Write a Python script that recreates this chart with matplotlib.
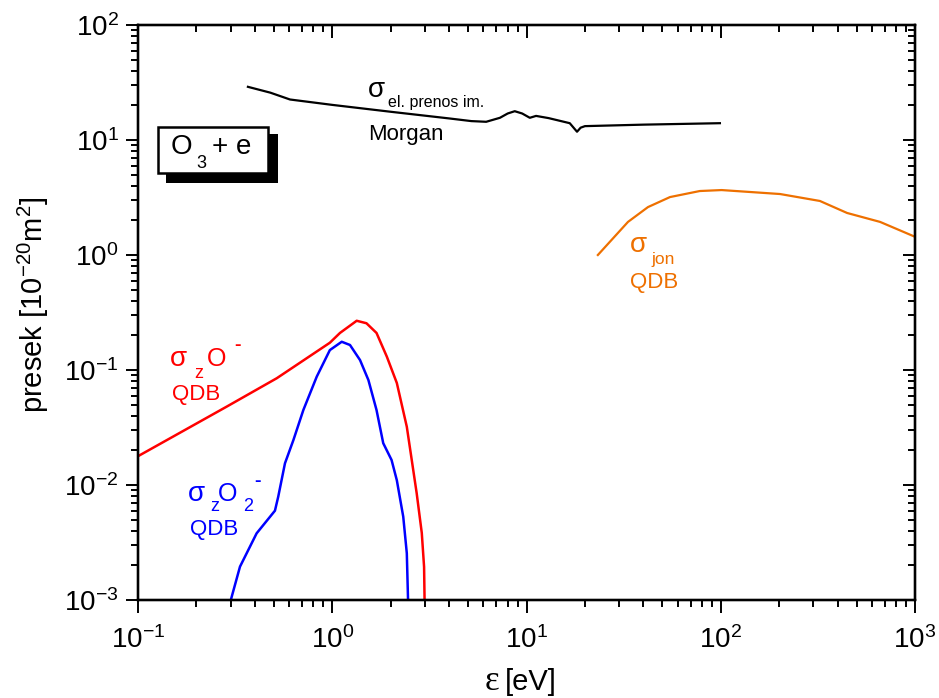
import matplotlib
matplotlib.use("Agg")
import matplotlib.pyplot as plt
from matplotlib.patches import Rectangle

plt.rcParams['font.family'] = ['Liberation Sans', 'DejaVu Sans']
plt.rcParams['mathtext.fontset'] = 'custom'
plt.rcParams['mathtext.rm'] = 'Liberation Sans'
plt.rcParams['mathtext.it'] = 'Liberation Sans:italic'
plt.rcParams['mathtext.bf'] = 'Liberation Sans:bold'

# ---------------- data ----------------
morgan_x = [0.368, 0.48, 0.606, 1.0, 2.0, 4.0, 5.2, 6.2, 7.3, 8.0, 8.7, 9.5, 10.4, 11.2, 13.0, 16.7, 18.2, 19.0, 20.0, 40.0, 99.0]
morgan_y = [29.0, 25.8, 22.5, 20.2, 17.6, 15.4, 14.6, 14.4, 15.6, 17.0, 17.8, 17.0, 15.6, 16.2, 15.5, 14.0, 11.8, 12.8, 13.2, 13.6, 14.0]

ion_x = [23.3, 33.3, 42.2, 54.8, 78.0, 101.0, 202.0, 324.0, 447.0, 661.0, 1000.0]
ion_y = [1.0, 1.94, 2.61, 3.19, 3.6, 3.67, 3.39, 2.95, 2.32, 1.94, 1.44]

o_x = [0.1, 0.286, 0.518, 0.972, 1.096, 1.336, 1.50, 1.69, 1.91, 2.15, 2.42, 2.72, 2.89, 2.97, 2.99]
o_y = [0.0178, 0.048, 0.0848, 0.1726, 0.21, 0.268, 0.255, 0.21, 0.1306, 0.0771, 0.0321, 0.0085, 0.00383, 0.00194, 0.0009]

o2_x = [0.298, 0.335, 0.408, 0.507, 0.527, 0.571, 0.631, 0.71, 0.832, 0.972, 1.119, 1.234, 1.39, 1.535, 1.69, 1.83, 2.02, 2.15, 2.32, 2.42, 2.46]
o2_y = [0.00095, 0.00195, 0.0038, 0.00598, 0.0079, 0.01545, 0.0246, 0.0449, 0.0875, 0.149, 0.176, 0.165, 0.122, 0.0818, 0.0449, 0.0231, 0.0165, 0.011, 0.0053, 0.00255, 0.0009]

xlim = (0.1, 1000.0)
ylim = (1e-3, 1e2)

# ---------------- figure ----------------
W, H = 939, 698
fig = plt.figure(figsize=(W / 100, H / 100), dpi=100)
L, R, T, B = 138, 915, 25, 600
ax = fig.add_axes([L / W, 1 - B / H, (R - L) / W, (B - T) / H])

ax.plot(morgan_x, morgan_y, color='black', lw=1.6)
ax.plot(ion_x, ion_y, color='#ee7000', lw=1.6)
ax.plot(o_x, o_y, color='#ff0000', lw=1.8)
ax.plot(o2_x, o2_y, color='#0000ff', lw=1.8)

ax.set_xscale('log')
ax.set_yscale('log')
ax.set_xlim(*xlim)
ax.set_ylim(*ylim)

for s in ax.spines.values():
    s.set_linewidth(1.6)

ax.tick_params(axis='both', which='major', direction='out', length=9, width=1.4, labelsize=20, pad=5)
ax.tick_params(axis='both', which='minor', direction='out', length=5, width=1.4)
ax.tick_params(axis='x', which='major', pad=10)

# inward ticks on top and right
axr = ax.twinx()
axr.set_yscale('log'); axr.set_ylim(*ylim)
axr.tick_params(axis='y', which='major', direction='in', length=9, width=1.4, labelright=False)
axr.tick_params(axis='y', which='minor', direction='in', length=5, width=1.4)
axt = ax.twiny()
axt.set_xscale('log'); axt.set_xlim(*xlim)
axt.tick_params(axis='x', which='major', direction='in', length=9, width=1.4, labeltop=False)
axt.tick_params(axis='x', which='minor', direction='in', length=5, width=1.4)
for a in (axr, axt):
    for s in a.spines.values():
        s.set_linewidth(1.6)

# axis labels
fig.text(33 / W, 1 - 305 / H, r'presek [10$^{-20}$m$^{2}$]', rotation=90, ha='center', va='center', fontsize=21)
fig.text(485 / W, 1 - 690 / H, 'ε', ha='left', va='baseline', fontsize=25, family='Liberation Serif')
fig.text(505 / W, 1 - 690 / H, '[eV]', ha='left', va='baseline', fontsize=21)


def ftxt(x, y, s, size, color='black', **kw):
    fig.text(x / W, 1 - y / H, s, fontsize=size, color=color, ha='left', va='baseline', **kw)


# Morgan
ftxt(368, 97, 'σ', 20)
ftxt(388, 107, 'el. prenos im.', 11.5)
ftxt(368, 140, 'Morgan', 16)

# ionisation
orng = '#ee7000'
ftxt(630, 252, 'σ', 20, orng)
ftxt(651, 264, 'jon', 12.5, orng)
ftxt(630, 288, 'QDB', 16, orng)

# O-
ftxt(170, 366, 'σ', 20, '#ff0000')
ftxt(194, 378, 'z', 13, '#ff0000')
ftxt(207, 366, 'O', 18, '#ff0000')
ftxt(234, 350, '-', 14, '#ff0000', fontweight='bold')
ftxt(172, 400, 'QDB', 16, '#ff0000')

# O2-
ftxt(188, 501, 'σ', 20, '#0000ff')
ftxt(210, 511, 'z', 13, '#0000ff')
ftxt(218, 501, 'O', 18, '#0000ff')
ftxt(243, 511, '2', 13, '#0000ff')
ftxt(254, 486, '-', 14, '#0000ff', fontweight='bold')
ftxt(190, 535, 'QDB', 16, '#0000ff')

# O3 + e box with shadow
fig.add_artist(Rectangle((166 / W, 1 - 183 / H), 112 / W, 49 / H, transform=fig.transFigure,
                         facecolor='black', edgecolor='black', lw=0, zorder=5))
fig.add_artist(Rectangle((158 / W, 1 - 173 / H), 110 / W, 46 / H, transform=fig.transFigure,
                         facecolor='white', edgecolor='black', lw=1.8, zorder=6))
fig.text(171 / W, 1 - 154 / H, 'O', fontsize=20, ha='left', va='baseline', zorder=7)
fig.text(196 / W, 1 - 168 / H, '3', fontsize=13, ha='left', va='baseline', zorder=7)
fig.text(212 / W, 1 - 154 / H, '+ e', fontsize=20, ha='left', va='baseline', zorder=7)

fig.savefig('out.png', dpi=100)
